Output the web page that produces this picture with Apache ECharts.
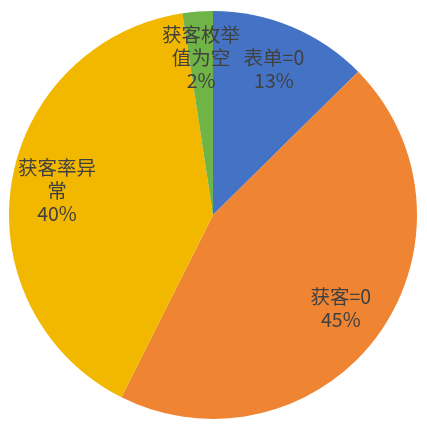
<!DOCTYPE html>
<html>
<head>
<meta charset="utf-8">
<script src="https://cdn.jsdelivr.net/npm/echarts@6/dist/echarts.min.js"></script>
<style>
  html, body { margin: 0; padding: 0; background: #fff; }
  #main { width: 427px; height: 429px; }
</style>
</head>
<body>
<div id="main"></div>
<script>
// 类别与占比
var names = ['表单=0', '获客=0', '获客率异常', '获客枚举值为空'];
var values = [12.6, 44.8, 40.2, 2.4];
var colors = ['#4472C4', '#EF8432', '#F2B800', '#70B346'];

var dataX = names.map(function (n, i) {
  return { name: n, value: values[i] };
});

var chart = echarts.init(document.getElementById('main'));
var option = {
  animation: false,
  color: colors,
  series: [{
    // 扇区
    type: 'pie',
    center: [213, 215],
    radius: [0, 204],
    startAngle: 90,
    clockwise: true,
    silent: true,
    label: { show: false },
    labelLine: { show: false },
    itemStyle: { borderWidth: 0 },
    data: dataX
  }, {
    // 透明环，只用来把标签放在 3/4 半径处
    type: 'pie',
    center: [213, 215],
    radius: [104, 206],
    startAngle: 90,
    clockwise: true,
    silent: true,
    avoidLabelOverlap: false,
    minShowLabelAngle: 0,
    labelLayout: { hideOverlap: false },
    itemStyle: { color: 'rgba(0,0,0,0)', borderWidth: 0 },
    labelLine: { show: false },
    label: {
      show: true,
      position: 'inside',
      fontFamily: 'Noto Sans CJK SC',
      fontSize: 19.5,
      lineHeight: 23,
      color: '#404040',
      width: 82,
      overflow: 'break',
      align: 'center',
      formatter: function (params) {
        return params.name + '\n' + Math.round(params.percent) + '%';
      }
    },
    data: dataX
  }]
};
chart.setOption(option);
</script>
</body>
</html>
